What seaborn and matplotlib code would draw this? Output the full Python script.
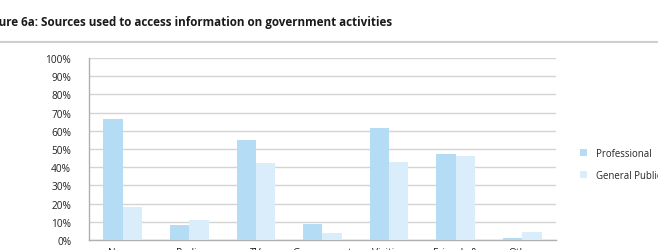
import numpy as np
import pandas as pd
import matplotlib
matplotlib.use("Agg")
import matplotlib.pyplot as plt
from matplotlib.ticker import PercentFormatter
import seaborn as sns

# --------------------------
# DATA
# --------------------------
categories = ["News-\npapers", "Radio", "TV", "Government\nwebsites",
              "Visiting\noffices", "Friends &\nfamily", "Other"]
professional = [66.5, 8.5, 55.0, 9.0, 61.3, 47.4, 1.3]
general_public = [18.0, 11.0, 42.4, 3.7, 43.0, 46.2, 4.4]
groups = ["Professional", "General Public"]
y_ticks = np.arange(0, 101, 10)

df = pd.DataFrame({
    "source": categories * 2,
    "share": professional + general_public,
    "group": [groups[0]] * len(categories) + [groups[1]] * len(categories),
})

# --------------------------
# PLOT
# --------------------------
sns.set_style("white")
plt.rcParams["font.family"] = ["Open Sans", "DejaVu Sans"]

fig = plt.figure(figsize=(6.58, 2.51), dpi=100)
ax = fig.add_axes([0.1357, 0.0398, 0.7088, 0.7252])

sns.barplot(
    data=df, x="source", y="share", hue="group", hue_order=groups,
    palette=["#b4dcf4", "#daedfa"], saturation=1, width=0.58,
    linewidth=0, ax=ax, zorder=3,
)

ax.set_ylim(0, 100)
ax.set_xlim(-0.5, len(categories) - 0.5)
ax.set_yticks(y_ticks)
ax.yaxis.set_major_formatter(PercentFormatter(decimals=0))
ax.yaxis.grid(True, color="#d4d4d4", linewidth=1, zorder=0)
ax.set_axisbelow(True)
ax.set_xlabel("")
ax.set_ylabel("")

for side in ["top", "right"]:
    ax.spines[side].set_visible(False)
for side in ["left", "bottom"]:
    ax.spines[side].set_color("#b0b0b0")
    ax.spines[side].set_linewidth(1)

ax.tick_params(axis="y", length=6, color="#d4d4d4", labelsize=7.3, pad=7,
               labelcolor="#222222")
ax.tick_params(axis="x", which="major", length=0, labelsize=7.3, pad=5,
               labelcolor="#222222")
ax.set_xticks(np.arange(-0.5, len(categories)), minor=True)
ax.tick_params(axis="x", which="minor", length=5, color="#b0b0b0")

ax.legend(
    loc="upper left", bbox_to_anchor=(0.874, 0.425), bbox_transform=fig.transFigure,
    frameon=False, fontsize=6.9, handlelength=0.7, handleheight=0.7,
    handletextpad=1.0, labelspacing=1.1, borderpad=0,
)

# title (cut off at the left edge like the reference)
fig.text(-0.027, 0.912, "Figure 6a: Sources used to access information on government activities",
         fontsize=8.4, fontweight="bold", color="#1a1a1a", va="center", ha="left")
fig.add_artist(plt.Line2D([0, 1], [0.83, 0.83], transform=fig.transFigure,
                          color="#cfcfcf", linewidth=1.5))

fig.savefig("out.png", dpi=100)
